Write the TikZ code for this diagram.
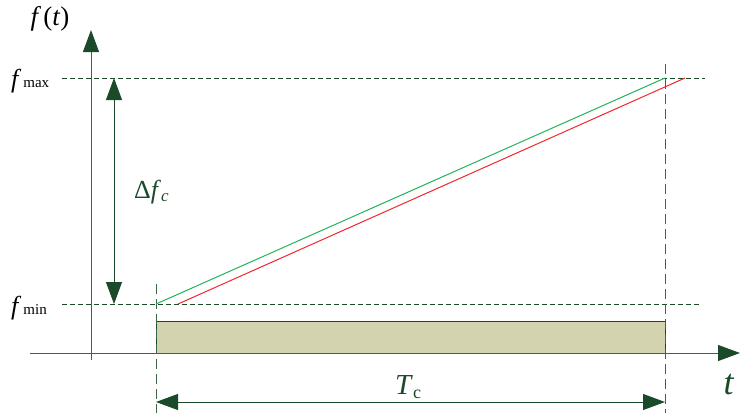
\documentclass[tikz,border=0pt]{standalone}
\usepackage{fontspec}
\setmainfont{Liberation Serif}
\usetikzlibrary{arrows.meta}
\definecolor{dg}{HTML}{1B4A2A}
\definecolor{lg}{HTML}{3C6448}
\definecolor{boxfill}{HTML}{D3D3AF}
\definecolor{gline}{HTML}{22B45A}
\definecolor{rline}{HTML}{F0282D}
\tikzset{
  axis/.style={draw=lg, line width=1pt},
  bigtip/.style={-{Triangle[length=22pt,width=16pt,color=dg]}},
  guide/.style={draw=dg, dashed, dash pattern=on 5pt off 3pt, line width=0.8pt},
  vguide/.style={draw=lg, dash pattern=on 10pt off 5pt, line width=0.9pt},
  dim/.style={draw=dg, line width=1pt, {Triangle[length=22pt,width=16pt,color=dg]}-{Triangle[length=22pt,width=16pt,color=dg]}},
  lbl/.style={inner sep=0pt, text=dg},
  blbl/.style={inner sep=0pt, text=black}
}
\begin{document}
\begin{tikzpicture}[x=1pt,y=-1pt]
\useasboundingbox (0,0) rectangle (740,415);
% coordinates
\coordinate (yb) at (91,360);
\coordinate (yt) at (91,30);
\coordinate (xl) at (30,353);
\coordinate (xr) at (740,353);
\coordinate (fmaxl) at (62,78);
\coordinate (fmaxr) at (705,78);
\coordinate (fminl) at (62,304);
\coordinate (fminr) at (700,304);
\coordinate (v1t) at (156,284);
\coordinate (v1b) at (156,413);
\coordinate (v2t) at (665,64);
\coordinate (v2b) at (665,413);
\coordinate (dft) at (114,78);
\coordinate (dfb) at (114,304);
\coordinate (tcl) at (156,402);
\coordinate (tcr) at (665,402);
\coordinate (g0) at (156,304);
\coordinate (g1) at (665,78);
\coordinate (r0) at (178,304);
\coordinate (r1) at (685,78);
% box
\node[draw=dg, fill=boxfill, line width=1pt, minimum width=509pt, minimum height=32pt, inner sep=0pt, anchor=north west] (box) at (156,321) {};
% guides
\draw[guide] (fmaxl) -- (fmaxr);
\draw[guide] (fminl) -- (fminr);
\draw[vguide] (v1t) -- (v1b);
\draw[vguide] (v2t) -- (v2b);
% axes
\draw[axis, bigtip] (yb) -- (yt);
\draw[axis, bigtip] (xl) -- (xr);
% ramps
\draw[gline, line width=1pt] (g0) -- (g1);
\draw[rline, line width=1pt] (r0) -- (r1);
% dimension arrows
\draw[dim] (dft) -- (dfb);
\draw[dim] (tcl) -- (tcr);
% labels
\node[blbl, font=\fontsize{27}{30}\selectfont] (ft) at (50,19) {\textit{f}\kern2pt(\textit{t})};
\node[blbl, font=\fontsize{26}{28}\selectfont, anchor=base west] (fmax) at (11,87) {\textit{f}\kern2pt\fontsize{15}{16}\selectfont max};
\node[blbl, font=\fontsize{26}{28}\selectfont, anchor=base west] (fmin) at (11,314) {\textit{f}\kern2pt\fontsize{15}{16}\selectfont min};
\node[lbl, font=\fontsize{26}{28}\selectfont, anchor=base west] (df) at (134,198) {Δ\textit{f}\raisebox{-3pt}{\fontsize{17}{18}\selectfont\textit{c}}};
\node[lbl, font=\fontsize{29}{30}\selectfont, anchor=base west] (tc) at (395,394) {\textit{T}\raisebox{-4pt}{\fontsize{18}{18}\selectfont c}};
\node[lbl, font=\fontsize{36}{38}\selectfont] (tl) at (729,385) {\textit{t}};
\end{tikzpicture}
\end{document}
